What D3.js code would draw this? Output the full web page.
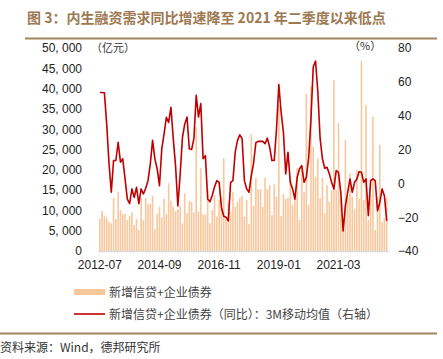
<!DOCTYPE html>
<html>
<head>
<meta charset="utf-8">
<script src="https://cdn.jsdelivr.net/npm/d3@7"></script>
<style>
  body { margin: 0; background: #fff; }
  svg { display: block; }
  text { font-family: "Liberation Sans", Arial, sans-serif; }
  .cjk { font-family: "Noto Sans CJK SC", sans-serif; }
</style>
</head>
<body>
<div id="chart"></div>
<script>
// monthly, 2012-07 .. 2022-12
const startMonth = new Date(2012, 6, 1);
const endMonth = new Date(2023, 0, 1);
const months = d3.timeMonth.range(startMonth, endMonth);

// 新增信贷+企业债券 (亿元), left axis
const newFinancing = [
  8000, 9850, 8700, 8200, 7200, 6800, 13100, 7900, 14600, 10100, 9100, 9100,
  7600, 8700, 9500, 6400, 7900, 5200, 13000, 7600, 13100, 11600, 11600, 13600,
  5400, 9100, 10900, 8300, 12800, 9100, 16700, 12400, 10900, 9850, 10300, 11200,
  6800, 14200, 9300, 12300, 12100, 9500, 30600, 9700, 20400, 9000, 9000, 15400,
  6800, 10100, 13800, 8450, 12560, 13400, 22800, 8050, 12150, 9700, 14600, 10900,
  12150, 13100, 13500, 8450, 12560, 6650, 28700, 11100, 18050, 15200, 15200, 10900,
  18050, 15270, 16260, 8870, 16400, 13400, 36000, 8600, 13950, 12800, 13100, 17900,
  11300, 13400, 20400, 7650, 19950, 14600, 38800, 11300, 40500, 25700, 18300, 22800,
  13000, 18050, 9300, 16260, 12150, 15000, 42100, 15000, 31450, 13000, 5600, 27300,
  13400, 19100, 13400, 10300, 19950, 12800, 46800, 12560, 36000, 7650, 13800, 33100,
  5200, 13400, 26100, 7200, 8050, 13000
];

// 同比 3M 移动均值 (%), right axis
const yoyMA3 = [
  53.7, 53.7, 53.5, 35, 12, -5.3, 13.5, 13.5, 24.3, 12.5, 14.5, 2.6,
  -9.3, -12, -3.3, -8.3, -2.4, -12, -3.3, -6.3, -2.9, 1.6, 11.5, 25.4,
  14.5, 8.5, -1.4, 20.4, 29.3, 39, 36, 45, 26.4, 10.5, -13.3, 5,
  27, 35, 39.2, 20.4, 20, 26.4, 52.1, 39.2, 47.1, 14.5, 16.4, -9.3,
  -10.9, -7, -2, 1.6, 0.6, -14.3, -19.5, -20, -22.2, 0.6, 1.6, 18.4,
  25.4, 28.7, 26.4, 1.6, -3.3, -5.3, 4.6, 12, 24, 24.8, 24.8, 24.8,
  23.4, 26.7, 21.4, 13.5, 13.5, 32.3, 58.4, 42, 30.3, 5.6, 18.4, 0.6,
  -3.3, -9.3, 3.6, 8.5, 10.5, 0.6, 3.6, 15, 38.2, 68.9, 72.3, 54,
  26.4, 14.5, 8.9, 9.5, 5.6, 0.6, -3.3, 7.5, 6.5, -5.3, -28.1, -13.3,
  -5.3, 2.6, -5.3, 0.6, 2.6, 6.9, 6.5, 0.6, 2.6, -19.2, 1.6, 2.6,
  1.6, -16.2, -11.3, -3.3, -7.3, -22.2
];

const leftTicks = [0, 5000, 10000, 15000, 20000, 25000, 30000, 35000, 40000, 45000, 50000];
const rightTicks = [-40, -20, 0, 20, 40, 60, 80];
const xTickLabels = ["2012-07", "2014-09", "2016-11", "2019-01", "2021-03"];

const titleText = "图 3：内生融资需求同比增速降至 2021 年二季度以来低点";
const legendBar = "新增信贷+企业债券";
const legendLine = "新增信贷+企业债券（同比）：3M移动均值（右轴）";
const sourceText = "资料来源：Wind，德邦研究所";

const W = 443, H = 359;
const BAR_COLOR = "#f9c79c";
const LINE_COLOR = "#c00000";
const BROWN = "#a48460";

const svg = d3.select("#chart").append("svg")
  .attr("width", W)
  .attr("height", H);

// title + rules
svg.append("text")
  .attr("class", "cjk")
  .attr("x", 27).attr("y", 23)
  .attr("font-size", 14)
  .attr("font-weight", "bold")
  .attr("fill", "#9d7850")
  .text(titleText);

svg.append("line")
  .attr("x1", 25).attr("x2", 437)
  .attr("y1", 38.5).attr("y2", 38.5)
  .attr("stroke", BROWN).attr("stroke-width", 2);

svg.append("line")
  .attr("x1", 0).attr("x2", 437)
  .attr("y1", 333.5).attr("y2", 333.5)
  .attr("stroke", BROWN).attr("stroke-width", 2);

svg.append("text")
  .attr("class", "cjk")
  .attr("x", 0).attr("y", 352)
  .attr("font-size", 12)
  .attr("fill", "#333")
  .text(sourceText);

// scales
const fmtMonth = d3.timeFormat("%Y-%m");
const keys = months.map(fmtMonth);

const x = d3.scaleBand()
  .domain(keys)
  .range([99, 387.5])
  .paddingInner(0.3)
  .paddingOuter(0);

const yL = d3.scaleLinear().domain([0, 50000]).range([251, 48]);
const yR = d3.scaleLinear().domain([-40, 80]).range([251, 48]);

// bars
svg.append("g")
  .selectAll("rect")
  .data(newFinancing)
  .join("rect")
  .attr("x", (d, i) => x(keys[i]))
  .attr("width", x.bandwidth())
  .attr("y", d => yL(d))
  .attr("height", d => yL(0) - yL(d))
  .attr("fill", BAR_COLOR);

// baseline
svg.append("line")
  .attr("x1", 98).attr("x2", 389)
  .attr("y1", yL(0) + 0.5).attr("y2", yL(0) + 0.5)
  .attr("stroke", "#d9d9d9").attr("stroke-width", 1.5);

// line
const line = d3.line()
  .x((d, i) => x(keys[i]) + x.bandwidth() / 2)
  .y(d => yR(d));

svg.append("path")
  .datum(yoyMA3)
  .attr("fill", "none")
  .attr("stroke", LINE_COLOR)
  .attr("stroke-width", 1.6)
  .attr("stroke-linejoin", "round")
  .attr("d", line);

// axes
const fmtLeft = v => d3.format(",")(v).replace(",", ", ");

const leftAxis = svg.append("g")
  .attr("transform", "translate(86,0)")
  .call(d3.axisLeft(yL).tickValues(leftTicks).tickFormat(fmtLeft).tickSize(0).tickPadding(4));

const rightAxis = svg.append("g")
  .attr("transform", "translate(394,0)")
  .call(d3.axisRight(yR).tickValues(rightTicks).tickSize(0).tickPadding(4));

const bottomAxis = svg.append("g")
  .attr("transform", `translate(0,${yL(0)})`)
  .call(d3.axisBottom(x)
    .tickValues(xTickLabels)
    .tickSize(0)
    .tickPadding(9));

[leftAxis, rightAxis, bottomAxis].forEach(a => {
  a.select(".domain").remove();
  a.selectAll("text")
    .attr("font-family", "'Liberation Sans', Arial, sans-serif")
    .attr("font-size", 12)
    .attr("fill", "#222");
});

// unit labels
svg.append("text")
  .attr("class", "cjk")
  .attr("x", 91).attr("y", 52)
  .attr("font-size", 11)
  .attr("fill", "#333")
  .text("（亿元）");

svg.append("text")
  .attr("class", "cjk")
  .attr("x", 349).attr("y", 50)
  .attr("font-size", 11)
  .attr("fill", "#333")
  .text("（%）");

// legend
const lg = svg.append("g");
lg.append("rect")
  .attr("x", 74).attr("y", 289)
  .attr("width", 31).attr("height", 6)
  .attr("fill", BAR_COLOR);
lg.append("text")
  .attr("class", "cjk")
  .attr("x", 109).attr("y", 297)
  .attr("font-size", 12)
  .attr("fill", "#444")
  .text(legendBar);

lg.append("line")
  .attr("x1", 74).attr("x2", 105)
  .attr("y1", 314).attr("y2", 314)
  .attr("stroke", LINE_COLOR).attr("stroke-width", 1.6);
lg.append("text")
  .attr("class", "cjk")
  .attr("x", 109).attr("y", 318.5)
  .attr("font-size", 12)
  .attr("fill", "#444")
  .text(legendLine);
</script>
</body>
</html>
